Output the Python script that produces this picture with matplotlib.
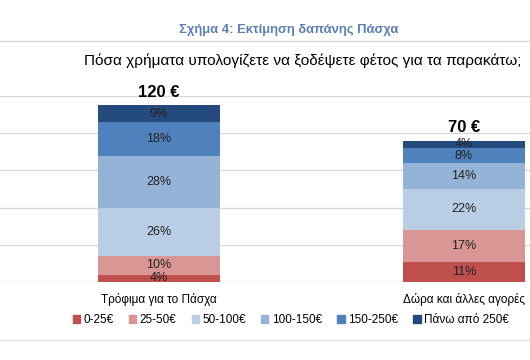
import numpy as np
import matplotlib.pyplot as plt
from matplotlib.lines import Line2D

plt.rcParams['font.family'] = ['Liberation Sans', 'DejaVu Sans']

# Δεδομένα
categories = ['Τρόφιμα για το Πάσχα', 'Δώρα και άλλες αγορές']
totals = ['120 €', '70 €']
ranges = ['0-25€', '25-50€', '50-100€', '100-150€', '150-250€', 'Πάνω από 250€']
food = [4, 10, 26, 28, 18, 9]
gifts = [11, 17, 22, 14, 8, 4]
colors = ['#C0504D', '#D99694', '#B9CDE5', '#95B3D7', '#4F81BD', '#254B7E']

values = np.array([food, gifts])  # 2 x 6

fig = plt.figure(figsize=(5.3, 3.6), dpi=100)
W, H = 530, 360
# axa: de la y=96 la y=282 px
ax = fig.add_axes([0, 1 - 282 / H, 1, (282 - 96) / H])

x = np.arange(len(categories))
bottom = np.zeros(len(categories))
for k in range(len(ranges)):
    ax.bar(x, values[:, k], bottom=bottom, width=0.403, color=colors[k],
           zorder=3, linewidth=0)
    for i in range(len(categories)):
        v = values[i, k]
        ax.text(x[i], bottom[i] + v / 2, f'{v}%', ha='center', va='center',
                fontsize=9, color='#222222', zorder=4)
    bottom += values[:, k]

# totaluri deasupra barelor
for i in range(len(categories)):
    ax.text(x[i], bottom[i] + 3, totals[i], ha='center', va='bottom',
            fontsize=12, fontweight='bold')

ax.set_ylim(0, 100)
ax.set_xlim(-159 / 305, (530 - 159) / 305)
ax.set_yticks(np.arange(0, 101, 20))
ax.yaxis.grid(True, color='#D9D9D9', linewidth=1, zorder=0)
ax.set_yticklabels([])
ax.tick_params(length=0)
ax.set_xticks(x)
ax.set_xticklabels(categories, fontsize=8.5)
ax.tick_params(axis='x', pad=8)
for s in ax.spines.values():
    s.set_visible(False)

# titluri
fig.text(289 / W, 1 - 30 / H, 'Σχήμα 4: Εκτίμηση δαπάνης Πάσχα', ha='center',
         va='center', fontsize=9.4, fontweight='bold', color='#5B7FB5')
fig.text(303 / W, 1 - 61 / H, 'Πόσα χρήματα υπολογίζετε να ξοδέψετε φέτος για τα παρακάτω;',
         ha='center', va='center', fontsize=11.1)
fig.add_artist(Line2D([0, 1], [1 - 41 / H] * 2, color='#D9D9D9', linewidth=1))
fig.add_artist(Line2D([0, 1], [1 - 340 / H] * 2, color='#E3E3E3', linewidth=1))

# legenda
handles = [plt.Rectangle((0, 0), 1, 1, color=c) for c in colors]
fig.legend(handles, ranges, loc='center', bbox_to_anchor=(291 / W, 1 - 320 / H),
           ncol=6, frameon=False, fontsize=8.5, handlelength=0.6, handleheight=0.6,
           handletextpad=0.3, columnspacing=1.3)

fig.savefig('out.png', dpi=100)
